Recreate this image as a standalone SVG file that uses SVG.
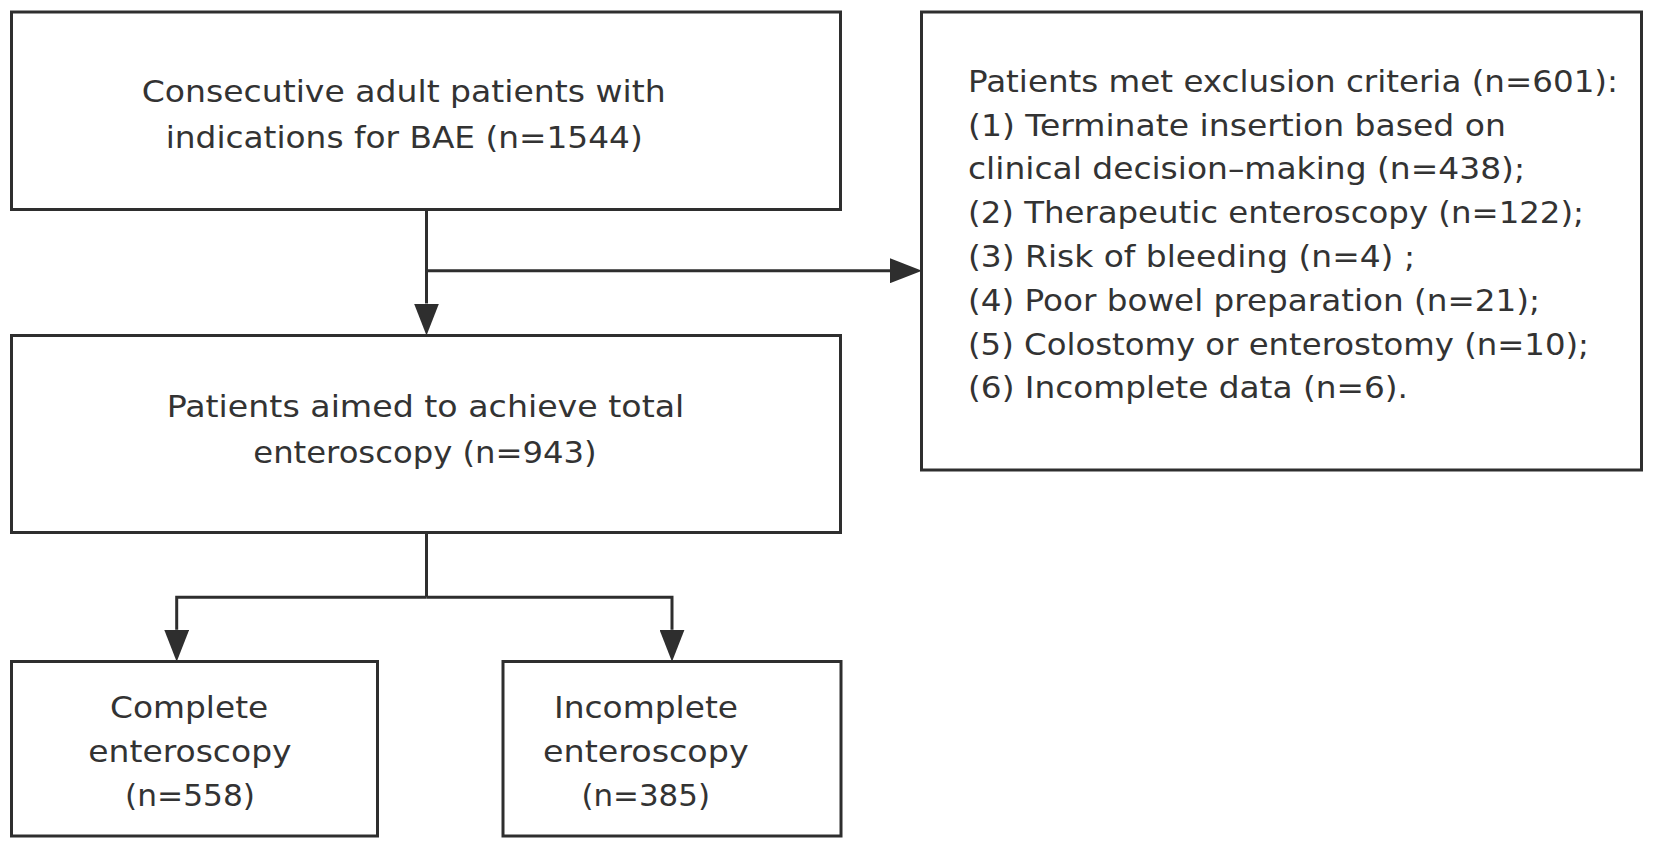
<svg xmlns="http://www.w3.org/2000/svg" width="1654" height="847" viewBox="0 0 1654 847">
<style>
.box{fill:#fff;stroke:#2e2e2e;stroke-width:3}
.conn{fill:none;stroke:#2e2e2e;stroke-width:3;stroke-linejoin:miter}
text{font-family:"DejaVu Sans","Liberation Sans",sans-serif;font-size:31px;fill:#333}
</style>
<defs>
<marker id="arr" viewBox="0 0 32 25" markerWidth="32" markerHeight="25" refX="0" refY="12.5" orient="auto" markerUnits="userSpaceOnUse">
<path d="M0,0 L32,12.5 L0,25 Z" fill="#2e2e2e"/>
</marker>
</defs>
<rect width="1654" height="847" fill="#fff"/>
<g id="connectors">
<path class="conn" d="M426.5,209.5 V303.5" marker-end="url(#arr)"/>
<path class="conn" d="M426.5,270.7 H890" marker-end="url(#arr)"/>
<path class="conn" d="M426.5,532.3 V597.3"/>
<path class="conn" d="M426.5,597.3 H176.7 V629.7" marker-end="url(#arr)"/>
<path class="conn" d="M426.5,597.3 H672 V629.7" marker-end="url(#arr)"/>
</g>
<g id="node-consecutive">
<rect class="box" x="11.5" y="12" width="829" height="197.5"/>
<text x="141.7" y="101.7" textLength="524" lengthAdjust="spacingAndGlyphs">Consecutive adult patients with</text>
<text x="165.7" y="147.7" textLength="477" lengthAdjust="spacingAndGlyphs">indications for BAE (n=1544)</text>
</g>
<g id="node-aimed">
<rect class="box" x="11.5" y="335.5" width="829" height="197"/>
<text x="166.7" y="417.3" textLength="517.6" lengthAdjust="spacingAndGlyphs">Patients aimed to achieve total</text>
<text x="253.3" y="463.3" textLength="343.4" lengthAdjust="spacingAndGlyphs">enteroscopy (n=943)</text>
</g>
<g id="node-complete">
<rect class="box" x="11.5" y="661.5" width="366" height="174.5"/>
<text x="110" y="718.3" textLength="158.3" lengthAdjust="spacingAndGlyphs">Complete</text>
<text x="88.3" y="762.3" textLength="203.3" lengthAdjust="spacingAndGlyphs">enteroscopy</text>
<text x="125" y="806.3" textLength="130" lengthAdjust="spacingAndGlyphs">(n=558)</text>
</g>
<g id="node-incomplete">
<rect class="box" x="503" y="661.5" width="338" height="174.5"/>
<text x="554" y="718.3" textLength="184" lengthAdjust="spacingAndGlyphs">Incomplete</text>
<text x="543" y="762.3" textLength="205.7" lengthAdjust="spacingAndGlyphs">enteroscopy</text>
<text x="581.4" y="806.3" textLength="128.6" lengthAdjust="spacingAndGlyphs">(n=385)</text>
</g>
<g id="node-exclusion">
<rect class="box" x="921.5" y="12" width="720" height="458"/>
<text x="968" y="91.7" textLength="650" lengthAdjust="spacingAndGlyphs">Patients met exclusion criteria (n=601):</text>
<text x="968" y="135.5" textLength="538" lengthAdjust="spacingAndGlyphs">(1) Terminate insertion based on</text>
<text x="968" y="179.3" textLength="557" lengthAdjust="spacingAndGlyphs">clinical decision–making (n=438);</text>
<text x="968" y="223.1" textLength="616" lengthAdjust="spacingAndGlyphs">(2) Therapeutic enteroscopy (n=122);</text>
<text x="968" y="266.9" textLength="447" lengthAdjust="spacingAndGlyphs">(3) Risk of bleeding (n=4) ;</text>
<text x="968" y="310.7" textLength="572" lengthAdjust="spacingAndGlyphs">(4) Poor bowel preparation (n=21);</text>
<text x="968" y="354.5" textLength="621" lengthAdjust="spacingAndGlyphs">(5) Colostomy or enterostomy (n=10);</text>
<text x="968" y="398.3" textLength="440" lengthAdjust="spacingAndGlyphs">(6) Incomplete data (n=6).</text>
</g>
</svg>
